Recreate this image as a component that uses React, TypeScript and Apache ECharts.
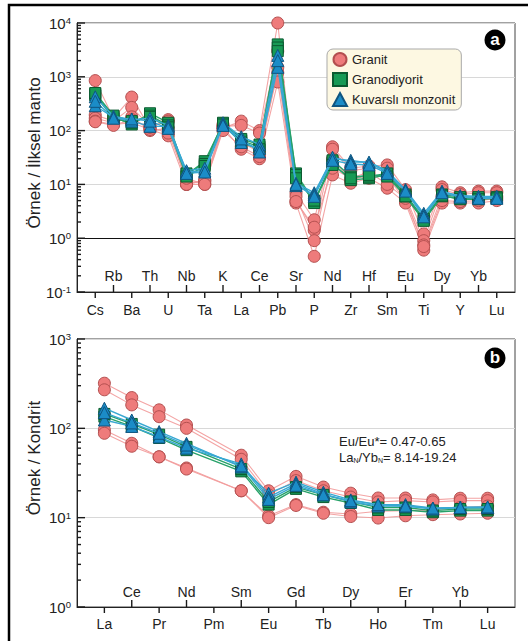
import React, { useEffect, useRef } from 'react';
import * as echarts from 'echarts';

// ---------- data ----------
const SPIDER_ELEMENTS = ['Cs', 'Rb', 'Ba', 'Th', 'U', 'Nb', 'Ta', 'K', 'La', 'Ce', 'Pb', 'Sr', 'P', 'Nd', 'Zr', 'Hf', 'Sm', 'Eu', 'Ti', 'Dy', 'Y', 'Yb', 'Lu'];
const REE_ELEMENTS = ['La', 'Ce', 'Pr', 'Nd', 'Pm', 'Sm', 'Eu', 'Gd', 'Tb', 'Dy', 'Ho', 'Er', 'Tm', 'Yb', 'Lu'];

// Primitive-mantle normalised (panel a)
const GRANIT_SPIDER = [
  [850, 170, 420, 110, 160, 10, 10, 110, 150, 100, 10000, 7, 2.2, 50, 20, 22, 23, 8, 1.2, 9, 7, 7.5, 7.5],
  [195, 150, 270, 120, 150, 10, 12, 120, 125, 90, 3000, 5, 1.4, 45, 18, 20, 20, 6, 0.9, 8, 6.5, 7, 7],
  [170, 140, 180, 100, 110, 11, 11, 130, 60, 40, 1200, 6, 0.9, 30, 12, 15, 14, 5, 0.75, 6, 5.5, 5.5, 6],
  [150, 130, 140, 105, 80, 10, 12, 115, 45, 30, 800, 4.5, 0.46, 15, 10.5, 13, 8.5, 4.5, 0.6, 4.5, 4.5, 4.5, 5],
  [146, 125, 160, 115, 90, 13, 10, 100, 50, 33, 1500, 4.8, 1.6, 20, 13, 17, 10, 5.5, 0.7, 5, 4.8, 5, 5.5],
];
const GRANODIYORIT_SPIDER = [
  [480, 180, 130, 210, 140, 15, 27, 135, 65, 50, 4000, 16, 4.8, 25, 12, 13, 15, 6, 2.2, 6, 5.5, 5.5, 5.5],
  [450, 170, 140, 190, 125, 16, 24, 140, 70, 55, 3500, 15, 4.5, 28, 14, 14, 16, 6.5, 2.3, 6.5, 5.8, 5.8, 5.8],
  [500, 190, 150, 180, 115, 14, 22, 130, 60, 45, 3000, 13, 5, 23, 13, 15, 14, 6, 2.1, 6.2, 5.3, 5.3, 5.5],
];
const MONZONIT_SPIDER = [
  [425, 185, 160, 170, 125, 17, 18, 140, 77, 55, 2500, 10.5, 7, 30, 28, 25, 17, 8, 2.9, 7.5, 6, 5.8, 5.7],
  [290, 175, 150, 120, 120, 18, 20, 130, 60, 47, 1500, 9.5, 6.5, 32, 26, 26, 18, 7.8, 2.7, 7.2, 6.2, 6, 6],
  [350, 170, 165, 150, 110, 16, 17, 125, 70, 40, 2000, 10, 6, 28, 24, 23, 16, 7.5, 2.5, 7, 5.8, 5.5, 5.5],
];

// Chondrite normalised (panel b); Pm not analysed
const GRANIT_REE = [
  [320, 221, 161, 109, null, 50, 20, 29, 22, 18.8, 16.6, 16.6, 15.8, 16.5, 16.5],
  [270, 183, 135, 100, null, 45, 18, 26, 20, 17, 15, 15.5, 15, 15.5, 15.5],
  [96, 68, 48, 36, null, 20, 10.5, 14, 11.5, 11, 11.8, 12, 12.2, 13, 13.5],
  [88, 63, 48, 35, null, 20, 10, 13.7, 11.2, 10.3, 9.9, 10.5, 10.8, 11, 11.2],
];
const GRANODIYORIT_REE = [
  [135, 105, 78, 57, null, 33, 14, 21, 17, 14.6, 12.2, 12.2, 11.5, 12, 12],
  [145, 112, 85, 62, null, 35, 15, 22, 18, 15.2, 13, 13, 12, 12.5, 12.5],
];
const MONZONIT_REE = [
  [168, 124, 92, 68, null, 37, 18.8, 25, 19.3, 15.8, 14, 14, 12.8, 13, 13],
  [124, 105, 80, 60, null, 40, 17, 24, 18.5, 15, 13.5, 13.5, 12.5, 13, 13],
  [150, 115, 88, 65, null, 38, 16, 23, 18, 15.5, 14, 13.5, 12.8, 13, 13.2],
];

const SPIDER_DECADES = [-1, 0, 1, 2, 3, 4];
const REE_DECADES = [0, 1, 2, 3];
const MINOR_STEPS = [2, 3, 4, 5, 6, 7, 8, 9];

const GROUP_NAMES = ['Granit', 'Granodiyorit', 'Kuvarslı monzonit'];

// ---------- styles / layout ----------
const FONT = '"Liberation Sans", Arial, Helvetica, sans-serif';
const TICK_COLOR = '#1a1a1a';
const GRIDS = [
  { left: 77, top: 23, width: 438, height: 269 },
  { left: 77, top: 339, width: 438, height: 268 },
];
const GROUP_STYLES = [
  { symbol: 'circle', size: 12, fill: '#ee7b7b', border: '#b34f4f', line: '#f29a9a', width: 1.1, opacity: 0.9 },
  { symbol: 'rect', size: 11, fill: '#179a55', border: '#0b5a30', line: '#27a169', width: 1.4, opacity: 1 },
  { symbol: 'triangle', size: 12, fill: '#1b8cc7', border: '#0f5580', line: '#38a8d2', width: 1.4, opacity: 1 },
];

function buildLines(groups: (number | null)[][][], xAxisIndex: number, yAxisIndex: number) {
  const out: any[] = [];
  groups.forEach((rows, g) => {
    const st = GROUP_STYLES[g];
    rows.forEach((row) => {
      out.push({
        type: 'line',
        name: GROUP_NAMES[g],
        xAxisIndex,
        yAxisIndex,
        data: row.map((v, i) => (v == null ? null : [i, v])).filter((d) => d !== null),
        symbol: st.symbol,
        symbolSize: st.size,
        itemStyle: { color: st.fill, borderColor: st.border, borderWidth: 1 },
        lineStyle: { color: st.line, width: st.width, opacity: st.opacity },
        z: 3 + g,
        silent: true,
      });
    });
  });
  return out;
}

function yAxis(gridIndex: number, min: number, max: number) {
  return {
    type: 'log',
    logBase: 10,
    gridIndex,
    min,
    max,
    axisLine: { show: true, onZero: false, lineStyle: { color: '#222', width: 1 } },
    axisTick: { show: false },
    splitLine: { show: true, lineStyle: { color: '#d8d8d8', width: 1 } },
    axisLabel: {
      margin: 6,
      formatter: (v: number) => `{b|10}{s|${Math.round(Math.log10(v))}}`,
      rich: {
        b: { fontSize: 15, color: '#222', fontFamily: FONT },
        s: { fontSize: 9.5, color: '#222', fontFamily: FONT, verticalAlign: 'top' },
      },
    },
  };
}

function xAxes(gridIndex: number, names: string[], max: number, innerMargin: number, outerMargin: number) {
  const even = names.map((_, i) => i).filter((i) => i % 2 === 0);
  const odd = names.map((_, i) => i).filter((i) => i % 2 === 1);
  const common = {
    type: 'value',
    gridIndex,
    min: -1,
    max,
    position: 'bottom',
    splitLine: { show: false },
    axisTick: { show: false },
  };
  return [
    {
      ...common,
      axisLine: { show: true, onZero: false, lineStyle: { color: '#222', width: 1 } },
      axisLabel: {
        customValues: even,
        formatter: (v: number) => names[Math.round(v)] ?? '',
        fontSize: 14,
        color: '#222',
        fontFamily: FONT,
        margin: outerMargin,
      },
    },
    {
      ...common,
      axisLine: { show: false, onZero: false },
      axisLabel: {
        inside: true,
        customValues: odd,
        formatter: (v: number) => names[Math.round(v)] ?? '',
        fontSize: 14,
        color: '#222',
        fontFamily: FONT,
        margin: innerMargin,
      },
    },
  ];
}

const STATIC_GRAPHICS: any[] = [
  { type: 'rect', shape: { x: 9, y: 5, width: 700, height: 800 }, style: { fill: 'none', stroke: '#000', lineWidth: 2.5 }, z: 100 },
  {
    type: 'text', x: 34, y: 153, rotation: Math.PI / 2,
    style: { text: 'Örnek / İlksel manto', fontSize: 17, fontFamily: FONT, fill: '#222', align: 'center', verticalAlign: 'middle' },
  },
  {
    type: 'text', x: 34, y: 458, rotation: Math.PI / 2,
    style: { text: 'Örnek / Kondrit', fontSize: 17, fontFamily: FONT, fill: '#222', align: 'center', verticalAlign: 'middle' },
  },
  { type: 'circle', shape: { cx: 495, cy: 40, r: 10.5 }, style: { fill: '#000' }, z: 50 },
  { type: 'text', x: 495, y: 39, z: 51, style: { text: 'a', fontSize: 17, fontWeight: 'bold', fontFamily: FONT, fill: '#fff', align: 'center', verticalAlign: 'middle' } },
  { type: 'circle', shape: { cx: 495, cy: 358, r: 10.5 }, style: { fill: '#000' }, z: 50 },
  { type: 'text', x: 495, y: 357, z: 51, style: { text: 'b', fontSize: 17, fontWeight: 'bold', fontFamily: FONT, fill: '#fff', align: 'center', verticalAlign: 'middle' } },
  {
    type: 'text', x: 339, y: 441, z: 20,
    style: { text: 'Eu/Eu*= 0.47-0.65', fontSize: 13, fontFamily: FONT, fill: '#222', align: 'left', verticalAlign: 'middle' },
  },
  {
    type: 'text', x: 339, y: 457, z: 20,
    style: {
      text: 'La{sub|N}/Yb{sub|N}= 8.14-19.24',
      fontSize: 13, fontFamily: FONT, fill: '#222', align: 'left', verticalAlign: 'middle',
      rich: { sub: { fontSize: 7, fontFamily: FONT, fill: '#222', verticalAlign: 'bottom' } },
    },
  },
];

export default function App() {
  const ref = useRef<HTMLDivElement>(null);
  useEffect(() => {
    if (!ref.current) return;
    const chart = echarts.init(ref.current, undefined, { renderer: 'svg' });
    const spiderLines = buildLines([GRANIT_SPIDER, GRANODIYORIT_SPIDER, MONZONIT_SPIDER], 0, 0);
    const reeLines = buildLines([GRANIT_REE, GRANODIYORIT_REE, MONZONIT_REE], 2, 1);
    const series: any[] = [...spiderLines, ...reeLines];
    // black reference line at 1 (panel a)
    series[0].markLine = {
      silent: true,
      symbol: 'none',
      label: { show: false },
      lineStyle: { color: '#111', width: 1, type: 'solid', opacity: 1 },
      data: [{ yAxis: 1 }],
      z: 2,
    };
    chart.setOption({
      animation: false,
      backgroundColor: '#ffffff',
      textStyle: { fontFamily: FONT },
      grid: GRIDS.map((g) => ({ ...g, show: true, borderColor: '#444', borderWidth: 1, backgroundColor: 'transparent' })),
      xAxis: [
        ...xAxes(0, SPIDER_ELEMENTS, SPIDER_ELEMENTS.length, 9, 11),
        ...xAxes(1, REE_ELEMENTS, REE_ELEMENTS.length, 8, 10),
      ],
      yAxis: [yAxis(0, 0.1, 10000), yAxis(1, 1, 1000)],
      legend: {
        left: 327,
        top: 49,
        orient: 'vertical',
        backgroundColor: '#fdf8e2',
        borderColor: '#a9a9a9',
        borderWidth: 1,
        borderRadius: 6,
        padding: [3, 6, 3, 5],
        itemGap: 5,
        itemWidth: 14,
        itemHeight: 13,
        textStyle: { fontSize: 13, color: '#222', fontFamily: FONT },
        data: [
          { name: 'Granit', icon: 'circle' },
          { name: 'Granodiyorit', icon: 'rect' },
          { name: 'Kuvarslı monzonit', icon: 'triangle' },
        ],
        selectedMode: false,
      },
      series,
    });

    // axis ticks as thin filled rects, positioned through the chart's coordinate conversion
    const panels = [
      { seriesIndex: 0, grid: GRIDS[0], names: SPIDER_ELEMENTS, decades: SPIDER_DECADES, xMax: SPIDER_ELEMENTS.length, inLen: 7, outLen: 6 },
      { seriesIndex: spiderLines.length, grid: GRIDS[1], names: REE_ELEMENTS, decades: REE_DECADES, xMax: REE_ELEMENTS.length, inLen: 7, outLen: 6 },
    ];
    const ticks: any[] = [];
    panels.forEach((pn) => {
      const lo = pn.decades[0];
      const hi = pn.decades[pn.decades.length - 1];
      const toPx = (x: number, y: number): number[] => {
        let c: any = null;
        try {
          c = chart.convertToPixel({ seriesIndex: pn.seriesIndex } as any, [x, y]);
        } catch (e) {
          c = null;
        }
        if (c && isFinite(c[0]) && isFinite(c[1])) return c;
        const g = pn.grid;
        return [
          g.left + ((x + 1) / (pn.xMax + 1)) * g.width,
          g.top + g.height * (1 - (Math.log10(y) - lo) / (hi - lo)),
        ];
      };
      const hTick = (x: number, y: number, len: number) => {
        const c = toPx(x, y);
        ticks.push({ type: 'rect', z: 60, shape: { x: c[0], y: c[1] - 0.7, width: len, height: 1.4 }, style: { fill: TICK_COLOR } });
      };
      const vTick = (x: number, y: number, len: number) => {
        const c = toPx(x, y);
        const top = len < 0 ? c[1] + len : c[1];
        ticks.push({ type: 'rect', z: 60, shape: { x: c[0] - 0.7, y: top, width: 1.4, height: Math.abs(len) }, style: { fill: TICK_COLOR } });
      };
      pn.decades.forEach((d, k) => {
        hTick(-1, Math.pow(10, d), 8);
        if (k < pn.decades.length - 1) MINOR_STEPS.forEach((m) => hTick(-1, m * Math.pow(10, d), 4));
      });
      const yMin = Math.pow(10, lo);
      pn.names.forEach((_, i) => {
        if (i % 2 === 0) vTick(i, yMin, pn.outLen);
        else vTick(i, yMin, -pn.inLen);
      });
    });

    chart.setOption({ graphic: [...STATIC_GRAPHICS, ...ticks] });
    return () => chart.dispose();
  }, []);
  return <div ref={ref} style={{ position: 'fixed', left: 0, top: 0, width: 528, height: 641 }} />;
}
